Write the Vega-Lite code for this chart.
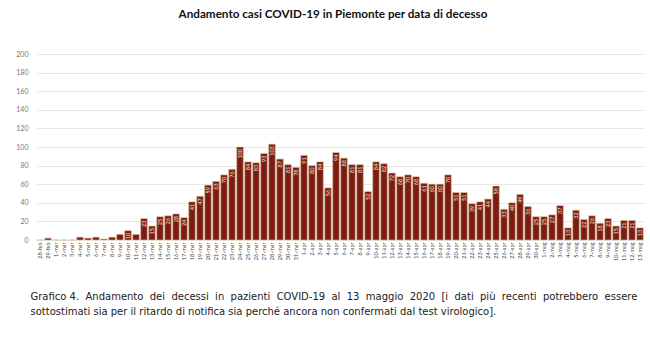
{
  "$schema": "https://vega.github.io/schema/vega-lite/v6.json",
  "width": 608,
  "height": 186,
  "autosize": {"type": "none"},
  "padding": {"left": 36, "top": 54, "right": 6, "bottom": 117},
  "background": "white",
  "config": {
    "font": "Lato",
    "view": {"stroke": null}
  },
  "title": {
    "text": "Andamento casi COVID-19 in Piemonte per data di decesso",
    "fontSize": 11.7,
    "fontWeight": "bold",
    "color": "#111111",
    "anchor": "middle",
    "offset": 29,
    "dx": -7
  },
  "data": {
    "values": [
      {"data": "28-feb", "v": 0}, {"data": "29-feb", "v": 2},
      {"data": "1-mar", "v": 0}, {"data": "2-mar", "v": 0}, {"data": "3-mar", "v": 0},
      {"data": "4-mar", "v": 3}, {"data": "5-mar", "v": 2}, {"data": "6-mar", "v": 3},
      {"data": "7-mar", "v": 1}, {"data": "8-mar", "v": 3}, {"data": "9-mar", "v": 6},
      {"data": "10-mar", "v": 10}, {"data": "11-mar", "v": 6}, {"data": "12-mar", "v": 23},
      {"data": "13-mar", "v": 15}, {"data": "14-mar", "v": 25}, {"data": "15-mar", "v": 26},
      {"data": "16-mar", "v": 28}, {"data": "17-mar", "v": 24}, {"data": "18-mar", "v": 41},
      {"data": "19-mar", "v": 47}, {"data": "20-mar", "v": 59}, {"data": "21-mar", "v": 63},
      {"data": "22-mar", "v": 70}, {"data": "23-mar", "v": 76}, {"data": "24-mar", "v": 100},
      {"data": "25-mar", "v": 84}, {"data": "26-mar", "v": 83}, {"data": "27-mar", "v": 93},
      {"data": "28-mar", "v": 103}, {"data": "29-mar", "v": 87}, {"data": "30-mar", "v": 81},
      {"data": "31-mar", "v": 78},
      {"data": "1-apr", "v": 91}, {"data": "2-apr", "v": 80}, {"data": "3-apr", "v": 84},
      {"data": "4-apr", "v": 56}, {"data": "5-apr", "v": 94}, {"data": "6-apr", "v": 88},
      {"data": "7-apr", "v": 81}, {"data": "8-apr", "v": 81}, {"data": "9-apr", "v": 52},
      {"data": "10-apr", "v": 84}, {"data": "11-apr", "v": 82}, {"data": "12-apr", "v": 72},
      {"data": "13-apr", "v": 68}, {"data": "14-apr", "v": 70}, {"data": "15-apr", "v": 68},
      {"data": "16-apr", "v": 61}, {"data": "17-apr", "v": 60}, {"data": "18-apr", "v": 60},
      {"data": "19-apr", "v": 70}, {"data": "20-apr", "v": 51}, {"data": "21-apr", "v": 51},
      {"data": "22-apr", "v": 39}, {"data": "23-apr", "v": 41}, {"data": "24-apr", "v": 44},
      {"data": "25-apr", "v": 58}, {"data": "26-apr", "v": 33}, {"data": "27-apr", "v": 40},
      {"data": "28-apr", "v": 49}, {"data": "29-apr", "v": 36}, {"data": "30-apr", "v": 25},
      {"data": "1-mag", "v": 25}, {"data": "2-mag", "v": 27}, {"data": "3-mag", "v": 37},
      {"data": "4-mag", "v": 13}, {"data": "5-mag", "v": 32}, {"data": "6-mag", "v": 22},
      {"data": "7-mag", "v": 26}, {"data": "8-mag", "v": 18}, {"data": "9-mag", "v": 23},
      {"data": "10-mag", "v": 15}, {"data": "11-mag", "v": 21}, {"data": "12-mag", "v": 21},
      {"data": "13-mag", "v": 13}
    ]
  },
  "encoding": {
    "x": {
      "field": "data",
      "type": "nominal",
      "sort": null,
      "scale": {"paddingInner": 0.18, "paddingOuter": 0.09},
      "axis": {
        "labelAngle": -90,
        "labelFontSize": 5.5,
        "labelColor": "#444444",
        "labelPadding": 2,
        "ticks": false,
        "domain": false,
        "title": ["Grafico 4. \u00a0Andamento \u00a0dei \u00a0decessi \u00a0in \u00a0pazienti \u00a0COVID-19 \u00a0al \u00a013 \u00a0maggio \u00a02020 \u00a0[i \u00a0dati \u00a0più \u00a0recenti \u00a0potrebbero \u00a0essere", "sottostimati sia per il ritardo di notifica sia perché ancora non confermati dal test virologico]."],
        "titleFont": "DejaVu Sans",
        "titleFontSize": 10,
        "titleFontWeight": "normal",
        "titleColor": "#222222",
        "titleAnchor": "start",
        "titleAlign": "left",
        "titleX": -6,
        "titlePadding": 31,
        "titleLineHeight": 15
      }
    },
    "y": {
      "field": "v",
      "type": "quantitative",
      "scale": {"domain": [0, 200]},
      "axis": {
        "values": [0, 20, 40, 60, 80, 100, 120, 140, 160, 180, 200],
        "labelFontSize": 7,
        "labelColor": "#777777",
        "labelPadding": 8,
        "ticks": false,
        "domain": false,
        "gridColor": "#e8e8e8",
        "title": null
      }
    }
  },
  "layer": [
    {
      "mark": {"type": "bar", "color": "#7b1d12", "stroke": "#d8b896", "strokeWidth": 0.6}
    },
    {
      "transform": [{"filter": "datum.v >= 10"}],
      "mark": {"type": "text", "angle": 270, "align": "right", "baseline": "middle", "dx": -2, "fontSize": 5.5, "color": "#f4e9dd"},
      "encoding": {"text": {"field": "v", "type": "quantitative"}}
    }
  ]
}
